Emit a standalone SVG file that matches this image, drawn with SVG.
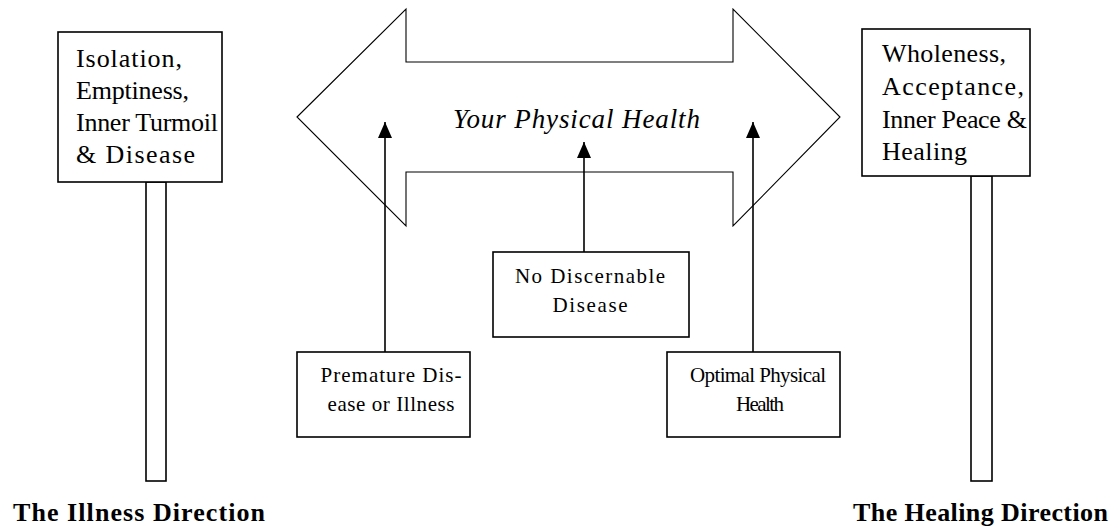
<svg xmlns="http://www.w3.org/2000/svg" width="1112" height="526" viewBox="0 0 1112 526">
<style>
.box{fill:#fff;stroke:#000;stroke-width:1.6}
.big{fill:#fff;stroke:#000;stroke-width:1.1}
.t{font-family:"Liberation Serif","Times New Roman",serif;fill:#000}
.lg{font-size:26px}
.sm{font-size:21px}
.it{font-size:27px;font-style:italic}
.bd{font-size:26px;font-weight:bold}
.ln{stroke:#000;stroke-width:1.6;fill:none}
</style>
<defs>
<marker id="ah" markerUnits="userSpaceOnUse" markerWidth="16" markerHeight="14" refX="16" refY="7" orient="auto" viewBox="0 0 16 14">
<path d="M0,0 L16,7 L0,14 Z" fill="#000"/>
</marker>
</defs>
<rect width="1112" height="526" fill="#fff"/>

<g id="big-arrow">
<polygon class="big" points="297,117 406,9 406,62 733,62 733,9 840,117 733,226 733,172 406,172 406,226"/>
<text class="t it" x="453" y="128" textLength="247">Your Physical Health</text>
</g>

<g id="illness-sign">
<rect class="box" x="146" y="182" width="20" height="299"/>
<rect class="box" x="58" y="32" width="164" height="150"/>
<text class="t lg" x="76" y="67" textLength="106">Isolation,</text>
<text class="t lg" x="76" y="99" textLength="113">Emptiness,</text>
<text class="t lg" x="76" y="131" textLength="142">Inner Turmoil</text>
<text class="t lg" x="76" y="163" textLength="119">&amp; Disease</text>
</g>

<g id="healing-sign">
<rect class="box" x="971" y="176" width="21" height="305"/>
<rect class="box" x="862" y="29" width="168" height="147"/>
<text class="t lg" x="882" y="62" textLength="124">Wholeness,</text>
<text class="t lg" x="882" y="95" textLength="142">Acceptance,</text>
<text class="t lg" x="882" y="128" textLength="145">Inner Peace &amp;</text>
<text class="t lg" x="882" y="160" textLength="85">Healing</text>
</g>

<g id="premature">
<rect class="box" x="297" y="352" width="173" height="85"/>
<text class="t sm" x="391" y="382" text-anchor="middle" textLength="141">Premature Dis-</text>
<text class="t sm" x="391" y="411" text-anchor="middle" textLength="127">ease or Illness</text>
</g>

<g id="no-disease">
<rect class="box" x="493" y="252" width="196" height="85"/>
<text class="t sm" x="590" y="283" text-anchor="middle" textLength="150">No Discernable</text>
<text class="t sm" x="590" y="312" text-anchor="middle" textLength="75">Disease</text>
</g>

<g id="optimal">
<rect class="box" x="667" y="352" width="173" height="85"/>
<text class="t sm" x="758" y="382" text-anchor="middle" textLength="136">Optimal Physical</text>
<text class="t sm" x="760" y="411" text-anchor="middle" textLength="48">Health</text>
</g>

<g id="connectors">
<line class="ln" x1="385" y1="352" x2="385" y2="122" marker-end="url(#ah)"/>
<line class="ln" x1="584" y1="252" x2="584" y2="142" marker-end="url(#ah)"/>
<line class="ln" x1="753" y1="352" x2="753" y2="122" marker-end="url(#ah)"/>
</g>

<g id="labels">
<text class="t bd" x="13" y="521" textLength="252">The Illness Direction</text>
<text class="t bd" x="853" y="521" textLength="255">The Healing Direction</text>
</g>
</svg>
